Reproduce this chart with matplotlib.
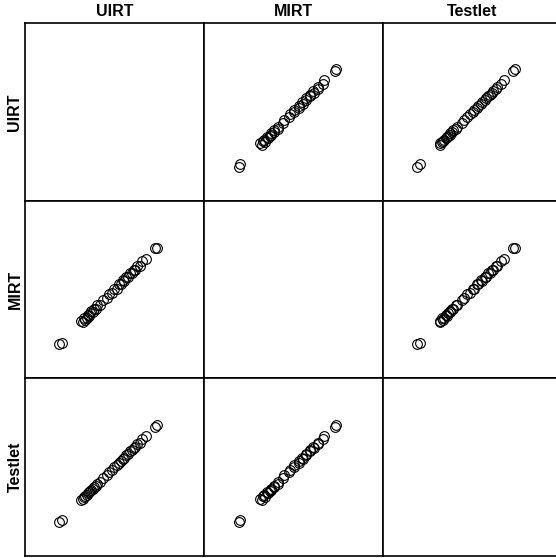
import matplotlib
matplotlib.use('Agg')
import matplotlib.pyplot as plt
import numpy as np

# данные: оценки по трём моделям
names = ['UIRT', 'MIRT', 'Testlet']

UIRT = [-2.05, -1.94, -1.24, -1.19, -1.14, -1.10, -1.05, -1.01, -0.97, -0.92,
        -0.88, -0.83, -0.78, -0.72, -0.66, -0.58, -0.45, -0.33, -0.24, -0.12,
        -0.05, 0.03, 0.10, 0.18, 0.25, 0.31, 0.38, 0.45, 0.52, 0.58,
        0.64, 0.70, 0.78, 0.86, 0.96, 1.10, 1.42, 1.50]
MIRT = [-2.02, -1.97, -1.18, -1.24, -1.08, -1.14, -1.09, -0.96, -1.01, -0.88,
        -0.84, -0.87, -0.74, -0.76, -0.61, -0.62, -0.41, -0.37, -0.20, -0.16,
        -0.01, -0.01, 0.14, 0.14, 0.29, 0.27, 0.42, 0.41, 0.56, 0.54,
        0.68, 0.66, 0.82, 0.82, 1.00, 1.06, 1.45, 1.47]
Testlet = [-2.04, -1.95, -1.23, -1.20, -1.13, -1.09, -1.06, -1.00, -0.96, -0.91,
           -0.87, -0.84, -0.77, -0.73, -0.65, -0.59, -0.44, -0.34, -0.23, -0.13,
           -0.04, 0.02, 0.11, 0.17, 0.26, 0.30, 0.39, 0.44, 0.53, 0.57,
           0.65, 0.69, 0.79, 0.85, 0.97, 1.09, 1.43, 1.49]

vals = [UIRT, MIRT, Testlet]
lim = (-3.27, 3.18)

plt.rcParams['font.family'] = ['Liberation Sans', 'DejaVu Sans']

fig = plt.figure(figsize=(5.56, 5.58), dpi=100)
W, H = 556, 558
x0, x1 = 25, 562   # правый край уходит за рамку
y0, y1 = 23, 556
cw = (x1 - x0) / 3
ch = (y1 - y0) / 3

for i in range(3):      # строки
    for j in range(3):  # столбцы
        left = (x0 + j * cw) / W
        bottom = (H - y0 - (i + 1) * ch) / H
        ax = fig.add_axes([left, bottom, cw / W, ch / H])
        if i != j:
            ax.plot(vals[j], vals[i], 'o', mfc='none', mec='black',
                    ms=7, mew=0.8)
        ax.set_xlim(lim)
        ax.set_ylim(lim)
        ax.set_xticks([])
        ax.set_yticks([])
        for s in ax.spines.values():
            s.set_linewidth(1.2)

for j, n in enumerate(names):
    fig.text((x0 + (j + 0.5) * cw) / W, 1 - 11.5 / H, n, ha='center', va='center',
             fontsize=11.5, fontweight='bold')
    fig.text(15 / W, 1 - (y0 + (j + 0.5) * ch) / H, n, ha='center', va='center',
             rotation=90, fontsize=11.5, fontweight='bold')

plt.savefig('out.png', dpi=100)
